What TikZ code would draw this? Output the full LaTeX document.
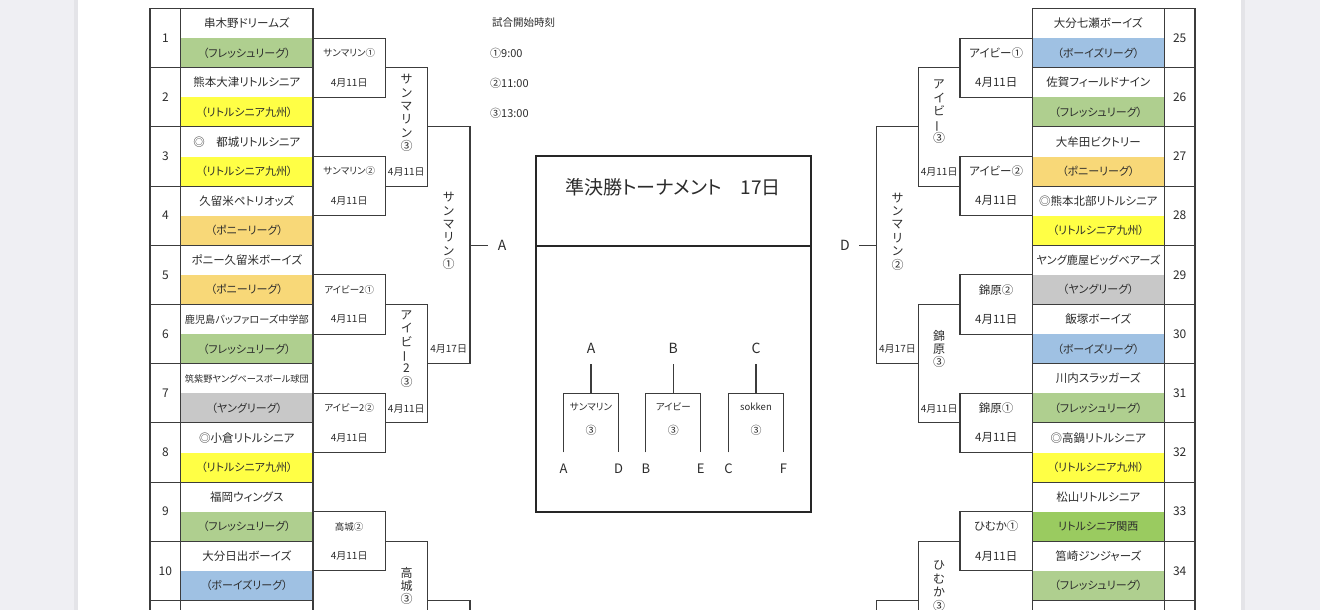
\documentclass[tikz,border=0pt]{standalone}
\usepackage{fontspec}
\usepackage{graphicx}
\setmainfont{Noto Sans CJK JP}[RawFeature=+palt]
\definecolor{fg}{HTML}{2C2C2C}
\definecolor{ln}{HTML}{3C3C3C}
\definecolor{cgreen}{HTML}{AFCF8F}
\definecolor{cyellow}{HTML}{FFFF45}
\definecolor{corange}{HTML}{F8D878}
\definecolor{cblue}{HTML}{9FC1E3}
\definecolor{cgray}{HTML}{C8C8C8}
\definecolor{ckansai}{HTML}{9ACB60}
\definecolor{pagebg}{HTML}{EFEFF3}
\definecolor{shadow}{HTML}{E4E4E8}
\newsavebox\namebox
\newcommand\fitname[1]{\sbox\namebox{#1}\ifdim\wd\namebox>124pt\resizebox{124pt}{!}{#1}\else\usebox\namebox\fi}
\newcommand\vbar{\smash{\rotatebox[origin=c]{90}{ー}}}
\begin{document}
\begin{tikzpicture}[x=1pt,y=-1pt,
  every node/.style={text=fg,inner sep=0pt},
  tl/.style={draw=ln,line width=1.1pt},
  teamf/.style={font=\fontsize{11.5}{13}\selectfont},
  leaguef/.style={font=\fontsize{11}{13}\selectfont},
  numf/.style={font=\fontsize{12}{14}\selectfont},
  lblL/.style={font=\fontsize{9.5}{11}\selectfont},
  lblR/.style={font=\fontsize{11.5}{13}\selectfont},
  datef/.style={font=\fontsize{10}{12}\selectfont},
  vert/.style={align=center,font=\fontsize{12}{13.4}\selectfont},
  big/.style={font=\fontsize{14}{16}\selectfont}]
\useasboundingbox (0,0) rectangle (1320,610);
\fill[pagebg] (0,0) rectangle (1320,610);
\fill[shadow] (74,0) rectangle (78,610);
\fill[shadow] (1241,0) rectangle (1245,610);
\fill[white] (78,0) rectangle (1241,610);

% ---------- left table ----------
\foreach \nm/\lg/\col [count=\i] in {
  串木野ドリームズ/（フレッシュリーグ）/cgreen,
  熊本大津リトルシニア/（リトルシニア九州）/cyellow,
  ◎　都城リトルシニア/（リトルシニア九州）/cyellow,
  久留米ペトリオッズ/（ポニーリーグ）/corange,
  ポニー久留米ボーイズ/（ポニーリーグ）/corange,
  鹿児島バッファローズ中学部/（フレッシュリーグ）/cgreen,
  筑紫野ヤングベースボール球団/（ヤングリーグ）/cgray,
  ◎小倉リトルシニア/（リトルシニア九州）/cyellow,
  福岡ウィングス/（フレッシュリーグ）/cgreen,
  大分日出ボーイズ/（ボーイズリーグ）/cblue}{
  \pgfmathsetmacro\yt{8.5+(\i-1)*59.2}
  \fill[\col] (180.7,\yt+29.6) rectangle (313,\yt+59.2);
  \node[teamf] (Ln\i) at (246.85,\yt+14.8) {\fitname{\nm}};
  \node[leaguef] (Ll\i) at (246.85,\yt+44.4) {\lg};
  \node[numf] (Lk\i) at (165.35,\yt+29.6) {\i};
  \draw[tl] (150,\yt) rectangle (313,\yt+59.2);
  \draw[tl] (180.7,\yt) -- (180.7,\yt+59.2);
}
\draw[tl] (150,612) -- (150,600.5) -- (313,600.5) -- (313,612);
\draw[tl] (180.7,600.5) -- (180.7,612);

% ---------- right table ----------
\foreach \nm/\lg/\col [count=\i] in {
  大分七瀬ボーイズ/（ボーイズリーグ）/cblue,
  佐賀フィールドナイン/（フレッシュリーグ）/cgreen,
  大牟田ビクトリー/（ポニーリーグ）/corange,
  ◎熊本北部リトルシニア/（リトルシニア九州）/cyellow,
  ヤング鹿屋ビッグベアーズ/（ヤングリーグ）/cgray,
  飯塚ボーイズ/（ボーイズリーグ）/cblue,
  川内スラッガーズ/（フレッシュリーグ）/cgreen,
  ◎高鍋リトルシニア/（リトルシニア九州）/cyellow,
  松山リトルシニア/リトルシニア関西/ckansai,
  筥崎ジンジャーズ/（フレッシュリーグ）/cgreen}{
  \pgfmathsetmacro\yt{8.5+(\i-1)*59.2}
  \pgfmathtruncatemacro\num{\i+24}
  \fill[\col] (1032.3,\yt+29.6) rectangle (1164.3,\yt+59.2);
  \node[teamf] (Rn\i) at (1098.3,\yt+14.8) {\fitname{\nm}};
  \node[leaguef] (Rl\i) at (1098.3,\yt+44.4) {\lg};
  \node[numf] (Rk\i) at (1179.65,\yt+29.6) {\num};
  \draw[tl] (1032.3,\yt) rectangle (1195,\yt+59.2);
  \draw[tl] (1164.3,\yt) -- (1164.3,\yt+59.2);
}
\draw[tl] (1032.3,612) -- (1032.3,600.5) -- (1195,600.5) -- (1195,612);
\draw[tl] (1164.3,600.5) -- (1164.3,612);

% ---------- first round ----------
\foreach \k/\lab in {1/サンマリン①,3/サンマリン②,5/アイビー2①,7/アイビー2②,9/高城②}{
  \pgfmathsetmacro\ya{38.1+(\k-1)*59.2}
  \draw[tl] (313,\ya) -- (385.3,\ya) -- (385.3,\ya+59.2) -- (313,\ya+59.2);
  \node[lblL] (L1m\k) at (349.2,\ya+14.8) {\lab};
  \node[datef] (L1d\k) at (349.2,\ya+44.4) {4月11日};
}
\foreach \k/\lab in {1/アイビー①,3/アイビー②,5/錦原②,7/錦原①,9/ひむか①}{
  \pgfmathsetmacro\ya{38.1+(\k-1)*59.2}
  \draw[tl] (1032.3,\ya) -- (960,\ya) -- (960,\ya+59.2) -- (1032.3,\ya+59.2);
  \node[lblR] (R1m\k) at (996.2,\ya+14.8) {\lab};
  \node[lblR] (R1d\k) at (996.2,\ya+44.4) {4月11日};
}

% ---------- second round ----------
\draw[tl] (385.3,67.7) -- (427.3,67.7) -- (427.3,186.1) -- (385.3,186.1);
\draw[tl] (385.3,304.5) -- (427.3,304.5) -- (427.3,422.9) -- (385.3,422.9);
\draw[tl] (385.3,541.3) -- (427.3,541.3) -- (427.3,612);
\node[vert] (L2a) at (406.5,113) {サ\\ン\\マ\\リ\\ン\\③};
\node[datef] (L2ad) at (406.3,172.3) {4月11日};
\node[vert] (L2b) at (406.5,349) {ア\\イ\\ビ\\\vbar\\2\\③};
\node[datef] (L2bd) at (406.3,408.5) {4月11日};
\node[vert] (L2c) at (406.5,586) {高\\城\\③};

\draw[tl] (960,67.7) -- (918.3,67.7) -- (918.3,186.1) -- (960,186.1);
\draw[tl] (960,304.5) -- (918.3,304.5) -- (918.3,422.9) -- (960,422.9);
\draw[tl] (960,541.3) -- (918.3,541.3) -- (918.3,612);
\node[vert] (R2a) at (939,111.7) {ア\\イ\\ビ\\\vbar\\③};
\node[datef] (R2ad) at (939.2,172.3) {4月11日};
\node[vert] (R2b) at (939,349) {錦\\原\\③};
\node[datef] (R2bd) at (939.2,408.5) {4月11日};
\node[vert] (R2c) at (939,586) {ひ\\む\\か\\③};

% ---------- third round ----------
\draw[tl] (427.3,126.9) -- (470,126.9) -- (470,363.7) -- (427.3,363.7);
\draw[tl] (427.3,600.5) -- (470,600.5) -- (470,612);
\node[vert] (L3a) at (448.7,231) {サ\\ン\\マ\\リ\\ン\\①};
\node[datef] (L3ad) at (448.7,349.3) {4月17日};
\node[big] (Aout) at (502,245.3) {A};
\coordinate (Aend) at (488,245.3);
\draw[tl] (470,245.3) -- (Aend);
\draw[tl] (918.3,126.9) -- (876.7,126.9) -- (876.7,363.7) -- (918.3,363.7);
\draw[tl] (918.3,600.5) -- (876.7,600.5) -- (876.7,612);
\node[vert] (R3a) at (897.5,231.5) {サ\\ン\\マ\\リ\\ン\\②};
\node[datef] (R3ad) at (897.5,349.3) {4月17日};
\node[big] (Dout) at (845,245.3) {D};
\coordinate (Dend) at (858.7,245.3);
\draw[tl] (876.7,245.3) -- (Dend);

% ---------- start times ----------
\node[font=\fontsize{10.5}{12}\selectfont,anchor=west] (tt0) at (492,23) {試合開始時刻};
\node[font=\fontsize{11}{12}\selectfont,anchor=west] (tt1) at (490,53) {①9:00};
\node[font=\fontsize{11}{12}\selectfont,anchor=west] (tt2) at (490,83) {②11:00};
\node[font=\fontsize{11}{12}\selectfont,anchor=west] (tt3) at (490,113) {③13:00};

% ---------- semifinal box ----------
\draw[line width=1.8pt,black!85] (535.7,155.7) rectangle (810.7,512.3);
\draw[line width=1.8pt,black!85] (535.7,245.7) -- (810.7,245.7);
\node[font=\fontsize{19}{22}\selectfont] (title) at (673,187) {準決勝トーナメント　17日};
\foreach \xc/\top/\lab/\l/\r/\lw in {591/A/サンマリン/A/D/s1,673.3/B/アイビー/B/E/s2,756/C/sokken/C/F/s3}{
  \node[big] (\lw t) at (\xc,348.3) {\top};
  \node[font=\fontsize{9.5}{11}\selectfont] (\lw n) at (\xc,406.7) {\lab};
  \node[font=\fontsize{11}{12}\selectfont] (\lw c) at (\xc,430.7) {③};
  \node[font=\fontsize{13}{15}\selectfont] (\lw l) at (\xc-27.5,468.3) {\l};
  \node[font=\fontsize{13}{15}\selectfont] (\lw r) at (\xc+27.5,468.3) {\r};
  \draw[tl] (\xc,364) -- (\xc,393.3);
  \draw[tl] (\xc-27.5,452.3) -- (\xc-27.5,393.3) -- (\xc+27.5,393.3) -- (\xc+27.5,452.3);
}
\end{tikzpicture}
\end{document}
